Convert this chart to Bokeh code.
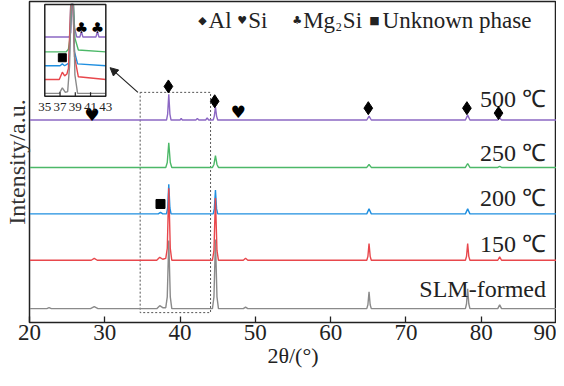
from bokeh.plotting import figure
from bokeh.models import Range1d, Arrow, NormalHead, FixedTicker
from bokeh.core.properties import value
from bokeh.embed import file_html
from bokeh.resources import INLINE
import numpy as np

# ---------------- data (2theta in degrees, intensity in arbitrary units) ----------------
labels = ["SLM-formed", "150 ℃", "200 ℃", "250 ℃", "500 ℃"]
colors = ["#8a8a8a", "#e8474c", "#1f8fe0", "#4cb868", "#8c68c4"]
offsets = [14, 63, 110, 157, 205]

slm_x = [20, 22.3, 22.6, 22.9, 28.1, 28.6, 29.1, 36.9, 37.3, 37.7, 38.1, 38.3, 38.5, 38.7, 38.9,
         44.3, 44.5, 44.7, 44.9, 45.1, 48.4, 48.7, 49.0, 64.8, 64.95, 65.1, 65.25, 65.4,
         77.9, 78.05, 78.2, 78.35, 78.5, 82.2, 82.45, 82.7, 90]
slm_y = [0, 0, 1, 0, 0, 2, 0, 0, 3, 1, 1, 12, 69, 12, 0,
         0, 12, 70, 12, 0, 0, 1.5, 0, 0, 4, 17, 4, 0,
         0, 5, 20, 5, 0, 0, 4, 0, 0]

t150_x = [20, 28.2, 28.6, 29.0, 36.9, 37.3, 37.7, 38.1, 38.3, 38.5, 38.7, 38.9,
          44.3, 44.5, 44.7, 44.9, 45.1, 48.4, 48.7, 49.0, 64.8, 64.95, 65.1, 65.25, 65.4,
          77.9, 78.05, 78.2, 78.35, 78.5, 82.2, 82.45, 82.7, 90]
t150_y = [0, 0, 2, 0, 0, 3, 1, 2, 12, 73, 12, 0,
          0, 10, 63, 10, 0, 0, 2, 0, 0, 4, 17, 4, 0,
          0, 4, 17, 4, 0, 0, 3.5, 0, 0]

t200_x = [20, 37.1, 37.4, 37.7, 38.2, 38.35, 38.5, 38.65, 38.8, 44.4, 44.55, 44.7, 44.85, 45.0,
          64.8, 65.1, 65.4, 77.9, 78.2, 78.5, 90]
t200_y = [0, 0, 1.5, 0, 0, 6, 30, 6, 0, 0, 5, 24, 5, 0,
          0, 5, 0, 0, 5, 0, 0]

t250_x = [20, 38.1, 38.3, 38.5, 38.7, 38.9, 44.3, 44.5, 44.7, 44.9, 45.1,
          64.8, 65.1, 65.4, 77.9, 78.2, 78.5, 82.2, 82.45, 82.7, 90]
t250_y = [0, 0, 5, 25, 5, 0, 0, 3, 12, 3, 0,
          0, 3, 0, 0, 4, 0, 0, 1, 0, 0]

t500_x = [20, 38.2, 38.35, 38.5, 38.65, 38.8, 40.0, 40.15, 40.3, 42.1, 42.3, 42.5, 43.4, 43.6, 43.8,
          44.4, 44.55, 44.7, 44.85, 45.0, 64.8, 65.1, 65.4, 77.9, 78.2, 78.5, 82.2, 82.45, 82.7, 90]
t500_y = [0, 0, 6, 26, 6, 0, 0, 1.5, 0, 0, 1.5, 0, 0, 2, 0,
          0, 4, 13, 4, 0, 0, 4, 0, 0, 5, 0, 0, 2, 0, 0]

# inset (35-43 degrees), intensities in inset units (inset box spans 0..100)
inset_offsets = [3.2, 18.3, 33.3, 48.4, 64.5]
in_slm_x = [35, 36.9, 37.3, 37.7, 38.0, 38.25, 38.45, 38.75, 38.95, 39.3, 43]
in_slm_y = [0, 0, 6, 1, 2, 30, 200, 200, 20, 0, 0]
in_150_x = [35, 36.9, 37.3, 37.6, 37.9, 38.1, 38.4, 38.7, 38.9, 39.4, 43]
in_150_y = [0, 0, 8, 4, 6, 12, 200, 200, 25, 3, 0]
in_200_x = [35, 37.0, 37.3, 37.6, 38.2, 38.4, 38.7, 38.9, 39.3, 43]
in_200_y = [0, 0, 2, 0, 3, 200, 200, 15, 2, 0]
in_250_x = [35, 37.8, 38.1, 38.3, 38.5, 38.75, 38.95, 39.4, 43]
in_250_y = [0, 0, 3, 15, 200, 200, 15, 2, 0]
in_500_x = [35, 38.2, 38.4, 38.55, 38.75, 38.9, 39.2, 39.6, 39.8, 40.0, 41.7, 41.9, 42.1, 43]
in_500_y = [0, 0, 5, 200, 200, 10, 0, 0, 6, 0, 0, 6, 0, 0]
inset_ticks = [35, 37, 39, 41, 43]

# phase markers
al_x = [38.45, 44.6, 65.0, 78.1, 82.3]
al_y = [239, 224, 217, 217, 212]
si_x = [28.3, 47.7]
si_y = [210, 213]
unk_x = [37.4]
unk_y = [120]
mg_in_x = [39.8, 41.9]
mg_in_y = [74, 74]
unk_in_x = [37.3]
unk_in_y = [42]

legend_sym = ["◆", "♥", "♣", "■"]
legend_sym_x = [42.97, 48.24, 55.54, 65.81]
legend_txt = ["Al", "Si", "Mg", "Si", "Unknown phase"]
legend_txt_x = [43.78, 49.05, 56.35, 61.62, 66.9]
legend_sub = ["2"]
legend_sub_x = [60.68]

main_x = [slm_x, t150_x, t200_x, t250_x, t500_x]
main_y = [slm_y, t150_y, t200_y, t250_y, t500_y]
ins_x = [in_slm_x, in_150_x, in_200_x, in_250_x, in_500_x]
ins_y = [in_slm_y, in_150_y, in_200_y, in_250_y, in_500_y]

# ---------------- layout ----------------
SERIF = "Liberation Serif"
SYM = "DejaVu Sans"
# inset box as fractions of the main frame (from left / from bottom)
IN_L, IN_R, IN_B, IN_T = 0.029, 0.1448, 0.7046, 0.9908
in_xspan = (43 - 35) / (IN_R - IN_L)
in_x0 = 35 - IN_L * in_xspan
in_yspan = 100 / (IN_T - IN_B)
in_y0 = 0 - IN_B * in_yspan

p = figure(width=556, height=370, x_range=Range1d(20, 90), y_range=Range1d(0, 325),
           output_backend="svg", toolbar_location=None,
           min_border_left=25, min_border_right=0, min_border_top=1, min_border_bottom=2)
p.extra_x_ranges = {"inset": Range1d(in_x0, in_x0 + in_xspan)}
p.extra_y_ranges = {"inset": Range1d(in_y0, in_y0 + in_yspan)}
p.grid.visible = False
p.background_fill_color = "white"
p.border_fill_color = "white"
p.outline_line_color = "#222222"
p.outline_line_width = 1.5

p.xaxis.ticker = FixedTicker(ticks=[20, 30, 40, 50, 60, 70, 80, 90])
p.xaxis.major_tick_in = 6
p.xaxis.major_tick_out = 0
p.xaxis.minor_tick_line_color = None
p.xaxis.major_tick_line_color = "#222222"
p.xaxis.major_tick_line_width = 1.3
p.xaxis.axis_line_color = "#222222"
p.xaxis.major_label_text_font = SERIF
p.xaxis.major_label_text_font_size = "23px"
p.xaxis.major_label_text_color = "#222222"
p.xaxis.major_label_standoff = 2
p.xaxis.axis_label = "2θ/(°)"
p.xaxis.axis_label_text_font = SERIF
p.xaxis.axis_label_text_font_style = "normal"
p.xaxis.axis_label_text_font_size = "22px"
p.xaxis.axis_label_text_color = "#222222"
p.xaxis.axis_label_standoff = 0

p.yaxis.ticker = FixedTicker(ticks=[])
p.yaxis.minor_tick_line_color = None
p.yaxis.axis_line_color = "#222222"
p.yaxis.axis_label = "Intensity/a.u."
p.yaxis.axis_label_text_font = SERIF
p.yaxis.axis_label_text_font_style = "normal"
p.yaxis.axis_label_text_font_size = "24px"
p.yaxis.axis_label_text_color = "#333333"
p.yaxis.axis_label_standoff = 0

# dashed zoom box
p.quad(left=[34.7], right=[44.05], bottom=[10], top=[233], fill_color=None,
       line_color="#555555", line_dash="2 2", line_width=1)

# main curves (draw order: top series first)
for i in [4, 3, 2, 0, 1]:
    xs = np.array(main_x[i], dtype=float)
    ys = np.array(main_y[i], dtype=float) + offsets[i]
    p.line(xs, ys, line_color=colors[i], line_width=1.4)

# curve labels
p.text(x=[88.6] * 5, y=[34, 79, 126, 172, 226], text=labels, text_align="right",
       text_baseline="middle", text_font=value(SERIF), text_font_size=value("24px"),
       text_color="#222222")

# phase markers in main plot
p.scatter(al_x, al_y, marker="diamond", size=13, color="black")
p.text(x=si_x, y=si_y, text=["♥"] * len(si_x), text_align="center", text_baseline="middle",
       text_font=value(SYM), text_font_size=value("17px"), text_color="black")
p.scatter(unk_x, unk_y, marker="square", size=9, color="black")

# legend line at top
p.text(x=legend_sym_x, y=[306] * 4, text=legend_sym, text_align="center", text_baseline="middle",
       text_font=value(SYM), text_font_size=value("11px"), text_color="#222222")
p.text(x=legend_txt_x, y=[306] * 5, text=legend_txt, text_align="left", text_baseline="middle",
       text_font=value(SERIF), text_font_size=value("23px"), text_color="#222222")
p.text(x=legend_sub_x, y=[299], text=legend_sub, text_align="left", text_baseline="middle",
       text_font=value(SERIF), text_font_size=value("12px"), text_color="#222222")

# arrow from zoom box to inset
p.add_layout(Arrow(end=NormalHead(size=8, fill_color="#222222", line_color="#222222"),
                   x_start=34.4, y_start=233, x_end=30.7, y_end=258,
                   line_color="#222222", line_width=1.2))

# ---------------- inset ----------------
IR = dict(x_range_name="inset", y_range_name="inset")
p.quad(left=[35], right=[43], bottom=[0], top=[100], fill_color="white",
       line_color=None, **IR)
for i in [4, 3, 2, 1, 0]:
    xs = np.array(ins_x[i], dtype=float)
    ys = np.minimum(np.array(ins_y[i], dtype=float) + inset_offsets[i], 100)
    p.line(xs, ys, line_color=colors[i], line_width=1.4, **IR)
p.quad(left=[35], right=[43], bottom=[0], top=[100], fill_color=None,
       line_color="#222222", line_width=1.5, **IR)
p.segment(x0=inset_ticks[1:-1], y0=[0] * 3, x1=inset_ticks[1:-1], y1=[4.5] * 3,
          line_color="#222222", line_width=1.2, **IR)
p.text(x=inset_ticks, y=[-12] * len(inset_ticks), text=[str(t) for t in inset_ticks],
       text_align="center", text_baseline="middle", text_font=value(SERIF),
       text_font_size=value("13px"), text_color="#222222", **IR)
p.text(x=mg_in_x, y=mg_in_y, text=["♣"] * 2, text_align="center", text_baseline="middle",
       text_font=value(SYM), text_font_size=value("15px"), text_color="black", **IR)
p.scatter(unk_in_x, unk_in_y, marker="square", size=8, color="black", **IR)

open("out.html", "w").write(file_html(p, INLINE))
